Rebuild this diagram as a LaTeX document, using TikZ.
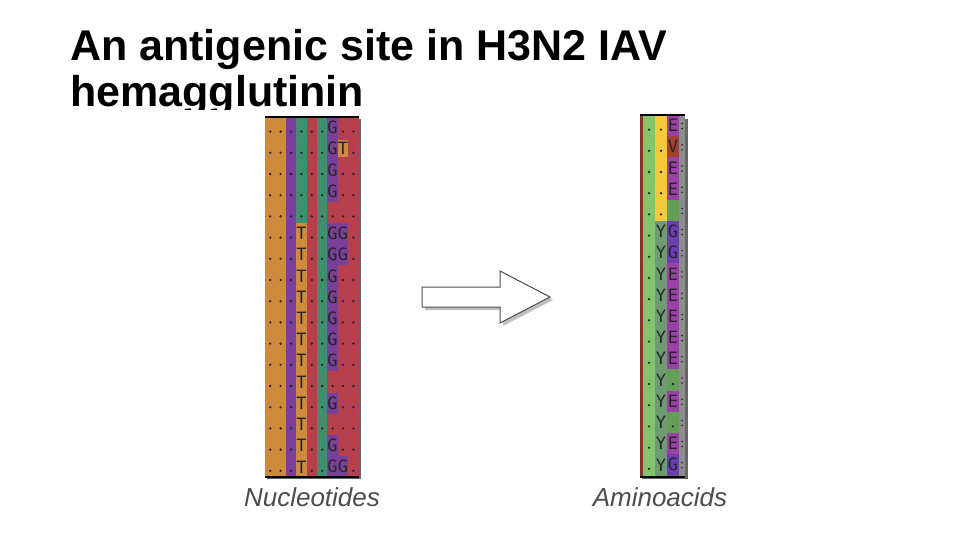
\documentclass[tikz,border=0pt]{standalone}
\usepackage{fontspec}
\setmainfont{Liberation Sans}
\newfontfamily\monof{DejaVu Sans Mono}
\definecolor{nor}{HTML}{CF8B3B}
\definecolor{npu}{HTML}{7A3F98}
\definecolor{ngr}{HTML}{3F8E6F}
\definecolor{nre}{HTML}{B5404C}
\definecolor{agr}{HTML}{7EC56B}
\definecolor{aye}{HTML}{F4CA3C}
\definecolor{ayb}{HTML}{6F9B70}
\definecolor{aep}{HTML}{9A40A8}
\definecolor{agp}{HTML}{6A3EB2}
\definecolor{avr}{HTML}{A34232}
\definecolor{agy}{HTML}{8C8C8C}
\tikzset{lab/.style={font=\fontsize{26}{26}\selectfont\itshape, text=black!70},
 ch/.style={font=\monof\fontsize{17}{17}\selectfont, text=black!85, inner sep=0pt},
 dot/.style={fill=black!85, minimum size=2.6pt, inner sep=0pt, circle}}
\begin{document}
\begin{tikzpicture}[x=1pt,y=-1pt]
\useasboundingbox (0,0) rectangle (960,540);
\fill[white] (0,0) rectangle (960,540);
\node[anchor=base west, font=\fontsize{43}{43}\selectfont\bfseries, inner sep=0] (t1) at (70,61) {An antigenic site in H3N2 IAV};
\node[anchor=base west, font=\fontsize{43}{43}\selectfont\bfseries, inner sep=0] (t2) at (70,107) {hemagglutinin};
\fill[white] (60,110) rectangle (500,130);
% nucleotides
\def\rh{21.2}
\fill[black!60] (267,119) rectangle (361,479);
\foreach \c/\col in {0/nor,1/nor,2/npu,3/ngr,4/nre,5/ngr,6/nre,7/nre,8/nre}
  \fill[\col] (265+\c*10.4,117) rectangle (265+\c*10.4+10.5,477);
\fill[nor] (296.2,117+5*\rh) rectangle (306.6,477);
\foreach \r/\a/\b in {0/G/.,1/G/T,2/G/.,3/G/.,4/./.,5/G/G,6/G/G,7/G/.,8/G/.,9/G/.,10/G/.,11/G/.,12/./.,13/G/.,14/./.,15/G/.,16/G/G}{
  \pgfmathsetmacro\yy{117+\r*\rh}
  \pgfmathsetmacro\ym{\yy+0.5*\rh}
  \if G\a \fill[npu] (327.4,\yy) rectangle (337.8,\yy+\rh); \node[ch] (na\r) at (332.6,\ym) {G};
  \else \node[dot] (na\r) at (332.6,\ym+4) {}; \fi
  \if G\b \fill[npu] (337.8,\yy) rectangle (348.2,\yy+\rh); \node[ch] (nb\r) at (343,\ym) {G};
  \else\if T\b \fill[nor] (337.8,\yy+2) rectangle (348.2,\yy+\rh-2); \node[ch] (nb\r) at (343,\ym) {T};
  \else \node[dot] (nb\r) at (343,\ym+4) {}; \fi\fi
  \node[dot] (nc\r) at (353.4,\ym+4) {};
  \foreach \c in {0,1,2,4,5}{\node[dot] at (270.2+\c*10.4,\ym+4) {};}
  \ifnum\r<5 \node[dot] at (301.4,\ym+4) {};\else \node[ch] at (301.4,\ym) {T};\fi
}
\draw[black, line width=1.2pt] (265,117) -- (358.6,117);
\draw[black, line width=1.2pt] (265,477) -- (358.6,477);
% arrow
\begin{scope}[shift={(3,3)}]
\fill[black!25] (422,287) -- (500,287) -- (500,271) -- (550,297) -- (500,323) -- (500,307) -- (422,307) -- cycle;
\end{scope}
\draw[black!70, line width=1pt, fill=white] (422,287) -- (500,287) -- (500,271) -- (550,297) -- (500,323) -- (500,307) -- (422,307) -- cycle;
% aminoacids
\def\ah{21.2}
\fill[black!60] (642,119) rectangle (688,479);
\fill[avr!80!black] (640,115) rectangle (643,477);
\fill[agr] (643,115) rectangle (655,477);
\fill[aye] (655,115) rectangle (667,115+5*\ah);
\fill[ayb] (655,115+5*\ah) rectangle (667,477);
\fill[agy] (679,115) rectangle (685,477);
\foreach \r/\a in {0/E,1/V,2/E,3/E,4/-,5/G,6/G,7/E,8/E,9/E,10/E,11/E,12/.,13/E,14/.,15/E,16/G}{
  \pgfmathsetmacro\yy{115+\r*\ah}
  \pgfmathsetmacro\ym{\yy+0.5*\ah}
  \node[dot] at (649,\ym+4) {};
  \ifnum\r<5 \node[dot] at (661,\ym+4) {}; \else \node[ch] at (661,\ym) {Y}; \fi
  \if E\a \fill[aep] (667,\yy) rectangle (679,\yy+\ah); \node[ch] (aa\r) at (673,\ym) {E};\fi
  \if V\a \fill[avr] (667,\yy) rectangle (679,\yy+\ah); \node[ch] (aa\r) at (673,\ym) {V};\fi
  \if G\a \fill[agp] (667,\yy) rectangle (679,\yy+\ah); \node[ch] (aa\r) at (673,\ym) {G};\fi
  \if .\a \fill[agr!80!black] (667,\yy) rectangle (679,\yy+\ah); \node[dot] at (673,\ym+4) {};\fi
  \if -\a \fill[agr!80!black] (667,\yy) rectangle (679,\yy+\ah);\fi
  \node[dot, minimum size=1.8pt] at (682,\ym-2) {};
  \node[dot, minimum size=1.8pt] at (682,\ym+3) {};
}
\draw[black, line width=1.2pt] (640,115) -- (685,115);
\draw[black, line width=1.2pt] (640,477) -- (685,477);
\node[lab] (l1) at (312,497) {Nucleotides};
\node[lab] (l2) at (660,497) {Aminoacids};
\end{tikzpicture}
\end{document}
